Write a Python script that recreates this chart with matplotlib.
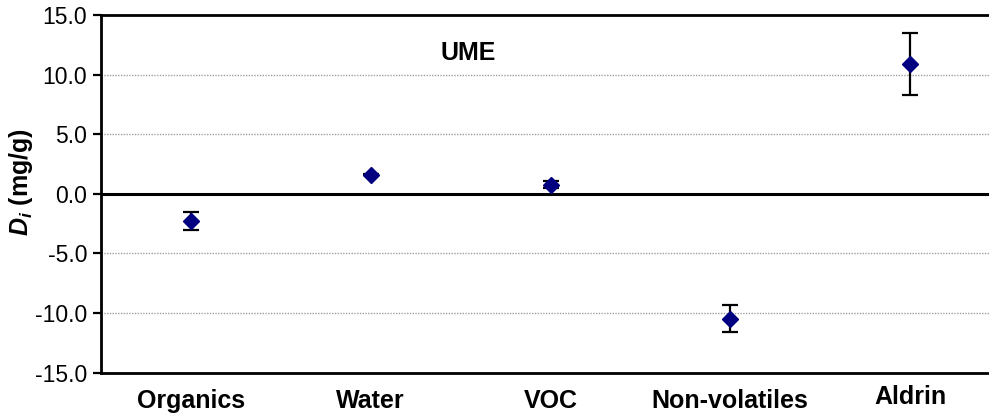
import matplotlib
matplotlib.use("Agg")
import matplotlib.pyplot as plt
import matplotlib.transforms as mtransforms

# data
categories = ["Organics", "Water", "VOC", "Non-volatiles", "Aldrin"]
di_values = [-2.3, 1.6, 0.75, -10.5, 10.85]
di_errors = [0.77, 0.05, 0.3, 1.14, 2.6]
y_ticks = [-15.0, -10.0, -5.0, 0.0, 5.0, 10.0, 15.0]

plt.rcParams['font.family'] = ['Liberation Sans', 'DejaVu Sans']
plt.rcParams['mathtext.fontset'] = 'custom'
plt.rcParams['mathtext.rm'] = 'Liberation Sans'
plt.rcParams['mathtext.it'] = 'Liberation Sans:italic'
plt.rcParams['mathtext.bf'] = 'Liberation Sans:bold'
plt.rcParams['mathtext.bfit'] = 'Liberation Sans:bold:italic'

fig = plt.figure(figsize=(9.89, 4.19), dpi=100)
# right edge of the plot area lies past the image edge, as in the reference
ax = fig.add_axes([101 / 989, 1 - 372.5 / 419, 899 / 989, (372.5 - 15) / 419])

x = list(range(len(categories)))
ax.errorbar(x, di_values, yerr=di_errors, fmt='D', color='#000080',
            markersize=8.6, ecolor='black', elinewidth=1.6, capsize=5.5,
            capthick=1.6, zorder=5)

ax.set_xlim(-0.5, len(categories) - 0.5)
ax.set_ylim(-15, 15)
ax.set_yticks(y_ticks)
ax.set_yticklabels([f"{v:.1f}" for v in y_ticks], fontsize=16.5)
ax.tick_params(axis='y', direction='out', length=6, width=1.6, pad=4)
ax.set_xticks([])

# gridlines and zero line
for v in y_ticks[1:-1]:
    if v == 0:
        ax.axhline(v, color='black', lw=2.2, zorder=3)
    else:
        ax.axhline(v, color='#a0a0a0', lw=1, ls=(0, (1, 1)), zorder=1)

for side in ['left', 'top', 'bottom']:
    ax.spines[side].set_linewidth(2)
ax.spines['right'].set_visible(False)

# category labels below the plot area
trans = mtransforms.blended_transform_factory(ax.transData, ax.transAxes)
for i, name in enumerate(categories):
    y_lab = -0.088 if name == "Aldrin" else -0.099
    ax.text(i, y_lab, name, transform=trans, ha='center', va='baseline',
            fontsize=18, fontweight='bold')

ax.set_ylabel(r"$\mathbfit{D_i}$ (mg/g)", fontsize=18, fontweight='bold')
ax.yaxis.set_label_coords(-0.073, 0.533)
ax.text(1.54, 11.8, "UME", ha='center', va='center', fontsize=18, fontweight='bold')

fig.savefig("out.png", dpi=100)
